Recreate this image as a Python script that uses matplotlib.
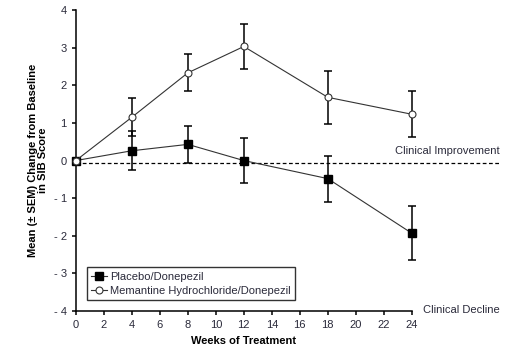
import matplotlib
matplotlib.use('Agg')
import matplotlib.pyplot as plt

plt.rcParams['font.family'] = ['Liberation Sans Narrow', 'Liberation Sans', 'DejaVu Sans']

weeks = [0, 4, 8, 12, 18, 24]
placebo_mean = [0, 0.26, 0.43, 0.0, -0.48, -1.93]
placebo_sem = [0, 0.52, 0.50, 0.60, 0.61, 0.71]
memantine_mean = [0, 1.15, 2.33, 3.03, 1.68, 1.23]
memantine_sem = [0, 0.51, 0.49, 0.60, 0.71, 0.61]
baseline = -0.07

txt_color = '#2a2a3a'

fig = plt.figure(figsize=(5.09, 3.56), dpi=100)
ax = fig.add_axes([0.149, 0.126, 0.66, 0.846])

# error bars first, lines on top
for m, e in [(placebo_mean, placebo_sem), (memantine_mean, memantine_sem)]:
    eb = ax.errorbar(weeks[1:], m[1:], yerr=e[1:], fmt='none',
                     ecolor='black', elinewidth=1.1, capsize=2.6, capthick=1.1,
                     zorder=2)
    for a in eb.lines[1] + eb.lines[2]:
        a.set_clip_on(False)

ln1, = ax.plot(weeks, placebo_mean, color='#333333', lw=0.8, marker='s', ms=6,
               mfc='black', mec='black', label='Placebo/Donepezil', zorder=3)
ln2, = ax.plot(weeks, memantine_mean, color='#333333', lw=0.8, marker='o', ms=5,
               mfc='white', mec='#333333', mew=0.8,
               label='Memantine Hydrochloride/Donepezil', zorder=4)
ln1.set_clip_on(False)
ln2.set_clip_on(False)

# dashed reference line running past the plot area
ax.plot([0, 30.3], [baseline, baseline], color='black', lw=0.9,
        ls=(0, (3, 2)), clip_on=False, zorder=1)
ax.text(30.3, 0.25, 'Clinical Improvement', ha='right', va='center',
        fontsize=8, color=txt_color, clip_on=False)
ax.text(30.3, -3.96, 'Clinical Decline', ha='right', va='center',
        fontsize=8, color=txt_color, clip_on=False)

ax.set_xlim(0, 24)
ax.set_ylim(-4, 4)
ax.set_xticks(range(0, 25, 2))
ax.set_yticks(range(-4, 5))
ax.set_yticklabels([('- %d' % -v) if v < 0 else str(v) for v in range(-4, 5)])
for s in ['top', 'right']:
    ax.spines[s].set_visible(False)
for s in ['left', 'bottom']:
    ax.spines[s].set_linewidth(1.1)
ax.tick_params(direction='out', length=3, width=1.1, labelsize=8,
               labelcolor=txt_color)

ax.set_xlabel('Weeks of Treatment', fontsize=8, fontweight='bold', labelpad=4)
ax.set_ylabel('Mean (\u00b1 SEM) Change from Baseline\nin SIB Score', fontsize=8,
              fontweight='bold', labelpad=4, linespacing=1.0)

leg = ax.legend(loc='lower left', bbox_to_anchor=(0.033, 0.037), fontsize=8,
                frameon=True, fancybox=False, edgecolor='black',
                handlelength=1.4, handletextpad=0.3, borderpad=0.4,
                labelspacing=0.35, borderaxespad=0)
leg.get_frame().set_linewidth(1.0)
for t in leg.get_texts():
    t.set_color(txt_color)

fig.savefig('out.png', dpi=100)
